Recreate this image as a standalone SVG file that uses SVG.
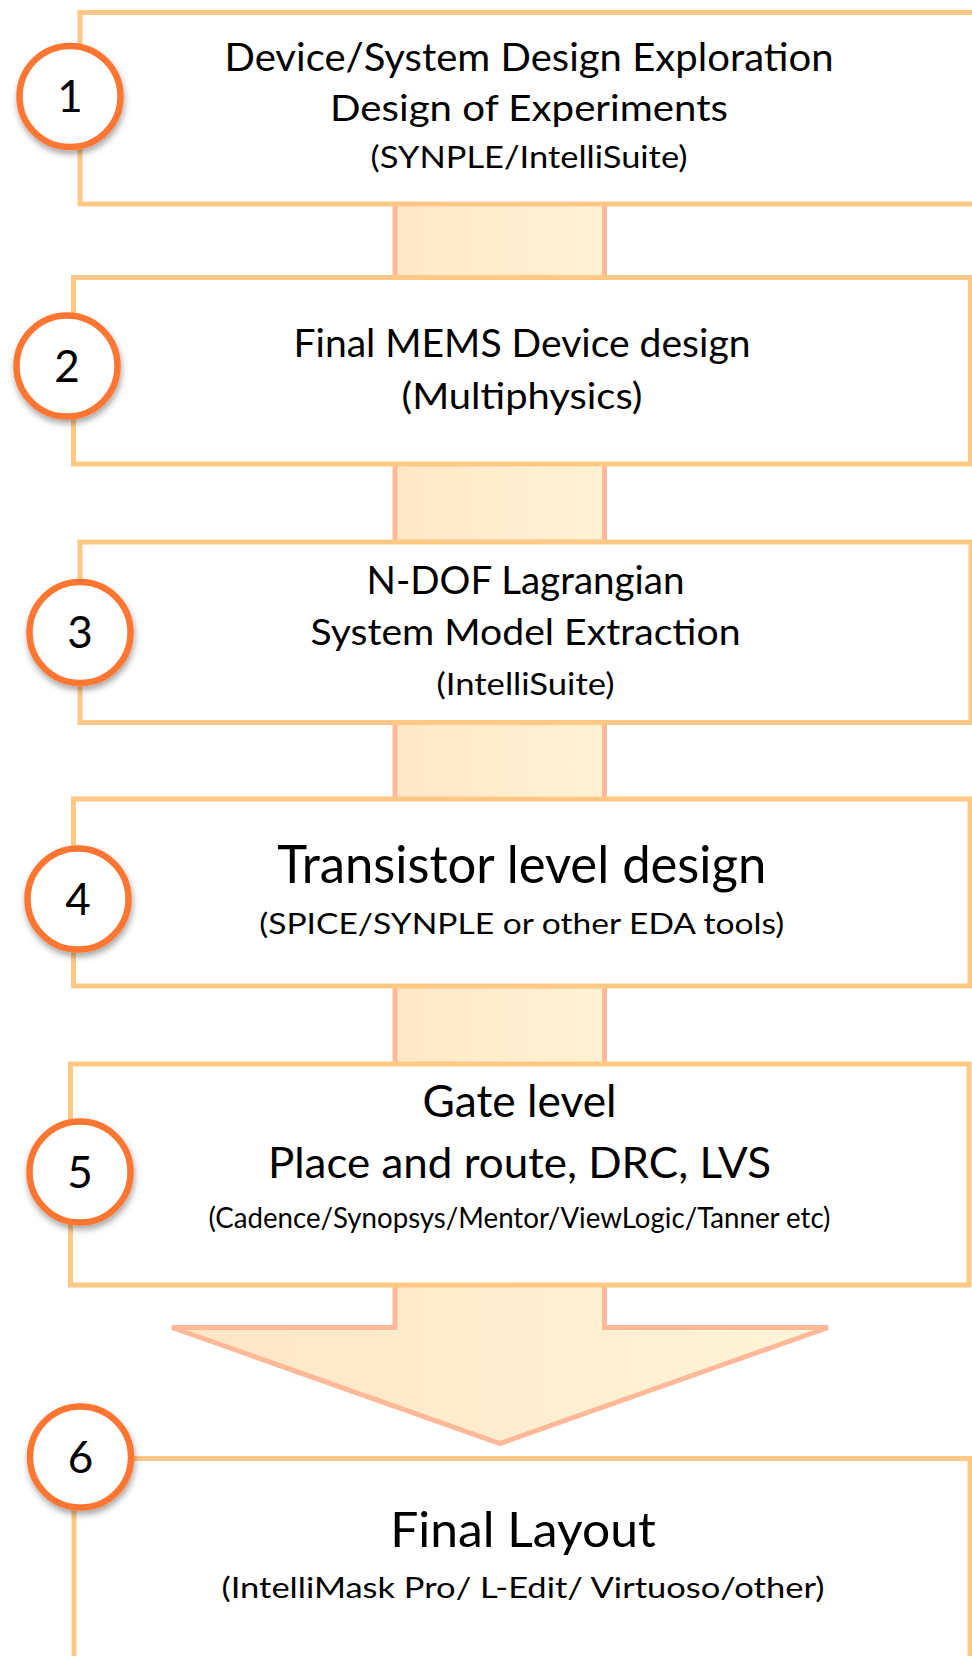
<svg xmlns="http://www.w3.org/2000/svg" width="972" height="1656" viewBox="0 0 972 1656">
  <defs>
    <linearGradient id="stemFill" x1="0" y1="0" x2="1" y2="0">
      <stop offset="0" stop-color="#FEE8C6"/>
      <stop offset="1" stop-color="#FFF2D4"/>
    </linearGradient>
    <linearGradient id="arrowFill" gradientUnits="userSpaceOnUse" x1="172" y1="0" x2="828" y2="0">
      <stop offset="0" stop-color="#FEE6C4"/>
      <stop offset="1" stop-color="#FFF5D8"/>
    </linearGradient>
    <filter id="badgeShadow" x="-30%" y="-30%" width="160%" height="170%">
      <feDropShadow dx="1" dy="4" stdDeviation="3" flood-color="#000" flood-opacity="0.35"/>
    </filter>
  </defs>
  <style>
    .box { fill: #FFFFFF; stroke: #FFC985; stroke-width: 5; }
    .stem { fill: url(#stemFill); stroke: none; }
    .stemEdge { fill: none; stroke: #FFB999; stroke-width: 5; }
    .badge { fill: #FFFFFF; stroke: #FF7632; stroke-width: 6.5; filter: url(#badgeShadow); }
    .num { font-family: Lato, "Open Sans", sans-serif; font-size: 44px; fill: #000; text-anchor: middle; }
    .t { font-family: Lato, "Open Sans", sans-serif; fill: #000; text-anchor: middle; }
  </style>

  <rect width="972" height="1656" fill="#FFFFFF"/>

  <!-- flow connectors between the stages -->
  <g id="connectors">
    <rect class="stem" x="395" y="204" width="209.5" height="73.5"/>
    <path class="stemEdge" d="M395,204 V277.5 M604.5,204 V277.5"/>
    <rect class="stem" x="395" y="464" width="209.5" height="78"/>
    <path class="stemEdge" d="M395,464 V542 M604.5,464 V542"/>
    <rect class="stem" x="395" y="722.5" width="209.5" height="76.5"/>
    <path class="stemEdge" d="M395,722.5 V799 M604.5,722.5 V799"/>
    <rect class="stem" x="395" y="986" width="209.5" height="78"/>
    <path class="stemEdge" d="M395,986 V1064 M604.5,986 V1064"/>
    <!-- large down arrow into the final stage -->
    <polygon points="395,1285 395,1327.5 172,1327.5 500,1443.5 828,1327.5 604.5,1327.5 604.5,1285" fill="url(#arrowFill)"/>
    <polyline points="395,1285 395,1327.5 172,1327.5 500,1443.5 828,1327.5 604.5,1327.5 604.5,1285" fill="none" stroke="#FFB999" stroke-width="5" stroke-linejoin="miter"/>
  </g>

  <g id="stage1">
    <rect class="box" x="80" y="12.5" width="910" height="191.5"/>
    <text class="t" x="529" y="70.7" font-size="38" textLength="609" lengthAdjust="spacingAndGlyphs">Device/System Design Exploration</text>
    <text class="t" x="529" y="120.7" font-size="37" textLength="398" lengthAdjust="spacingAndGlyphs">Design of Experiments</text>
    <text class="t" x="529" y="168.3" font-size="30" textLength="317" lengthAdjust="spacingAndGlyphs">(SYNPLE/IntelliSuite)</text>
    <circle class="badge" cx="70" cy="96.5" r="50.5"/>
    <text class="num" x="70" y="112">1</text>
  </g>

  <g id="stage2">
    <rect class="box" x="73.5" y="277.5" width="897" height="186.5"/>
    <text class="t" x="522" y="356.7" font-size="39" textLength="457" lengthAdjust="spacingAndGlyphs">Final MEMS Device design</text>
    <text class="t" x="522" y="409" font-size="37" textLength="241" lengthAdjust="spacingAndGlyphs">(Multiphysics)</text>
    <circle class="badge" cx="67" cy="366" r="50.5"/>
    <text class="num" x="67" y="381.5">2</text>
  </g>

  <g id="stage3">
    <rect class="box" x="80" y="542" width="891" height="180.5"/>
    <text class="t" x="525.5" y="594" font-size="38" textLength="318" lengthAdjust="spacingAndGlyphs">N-DOF Lagrangian</text>
    <text class="t" x="525.5" y="645" font-size="37" textLength="430" lengthAdjust="spacingAndGlyphs">System Model Extraction</text>
    <text class="t" x="525.5" y="695" font-size="30" textLength="178" lengthAdjust="spacingAndGlyphs">(IntelliSuite)</text>
    <circle class="badge" cx="80" cy="632.5" r="50.5"/>
    <text class="num" x="80" y="648">3</text>
  </g>

  <g id="stage4">
    <rect class="box" x="73.5" y="799" width="896.5" height="187"/>
    <text class="t" x="521.75" y="883.3" font-size="52" textLength="489" lengthAdjust="spacingAndGlyphs">Transistor level design</text>
    <text class="t" x="521.75" y="934" font-size="29" textLength="525" lengthAdjust="spacingAndGlyphs">(SPICE/SYNPLE or other EDA tools)</text>
    <circle class="badge" cx="78" cy="899" r="50.5"/>
    <text class="num" x="78" y="914.5">4</text>
  </g>

  <g id="stage5">
    <rect class="box" x="70.5" y="1064" width="898.5" height="221"/>
    <text class="t" x="519.5" y="1116.7" font-size="44" textLength="194" lengthAdjust="spacingAndGlyphs">Gate level</text>
    <text class="t" x="519.5" y="1178.3" font-size="42" textLength="503" lengthAdjust="spacingAndGlyphs">Place and route, DRC, LVS</text>
    <text class="t" x="519.5" y="1228.3" font-size="28" textLength="622" lengthAdjust="spacingAndGlyphs">(Cadence/Synopsys/Mentor/ViewLogic/Tanner etc)</text>
    <circle class="badge" cx="80" cy="1172" r="50.5"/>
    <text class="num" x="80" y="1187.5">5</text>
  </g>

  <g id="stage6">
    <rect class="box" x="74" y="1458.5" width="896" height="260"/>
    <text class="t" x="523" y="1546.7" font-size="48" textLength="265.5" lengthAdjust="spacingAndGlyphs">Final Layout</text>
    <text class="t" x="523" y="1598.3" font-size="28" textLength="603" lengthAdjust="spacingAndGlyphs">(IntelliMask Pro/ L-Edit/ Virtuoso/other)</text>
    <circle class="badge" cx="80.5" cy="1457" r="50.5"/>
    <text class="num" x="80.5" y="1472.5">6</text>
  </g>
</svg>
